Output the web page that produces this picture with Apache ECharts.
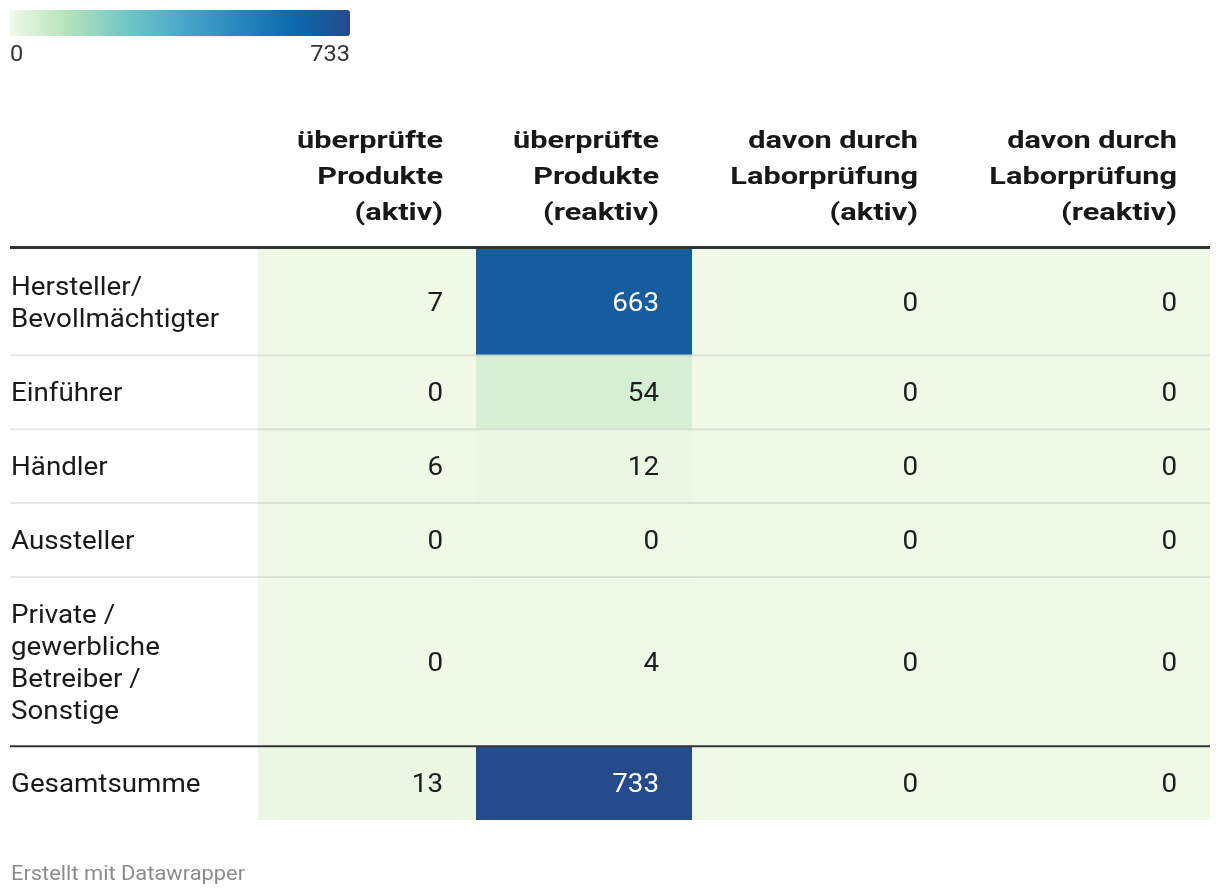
<!DOCTYPE html>
<html>
<head>
<meta charset="utf-8">
<script src="https://cdn.jsdelivr.net/npm/echarts@6/dist/echarts.min.js"></script>
<style>
html,body{margin:0;padding:0;background:#fff;}
#chart{width:1220px;height:896px;}
</style>
</head>
<body>
<div id="chart"></div>
<script>
// ---- data ----
const rowLabels = [
  'Hersteller/\nBevollmächtigter',
  'Einführer',
  'Händler',
  'Aussteller',
  'Private /\ngewerbliche\nBetreiber /\nSonstige',
  'Gesamtsumme'
];
const columnLabels = [
  'überprüfte\nProdukte\n(aktiv)',
  'überprüfte\nProdukte\n(reaktiv)',
  'davon durch\nLaborprüfung\n(aktiv)',
  'davon durch\nLaborprüfung\n(reaktiv)'
];
const produkteAktiv    = [7, 0, 6, 0, 0, 13];
const produkteReaktiv  = [663, 54, 12, 0, 4, 733];
const laborAktiv       = [0, 0, 0, 0, 0, 0];
const laborReaktiv     = [0, 0, 0, 0, 0, 0];
const columns = [produkteAktiv, produkteReaktiv, laborAktiv, laborReaktiv];
const scaleMin = 0;
const scaleMax = 733;
const colorStops = ['#f0f9e8','#b6e3bb','#75c8c5','#4ba8c9','#2989bd','#0a6aad','#254b8c'];

// ---- layout (not data) ----
const labelColW = 248;
const colW = [218, 216, 259, 259];
const lineH = 32, rowPad = 21;
const cellPadRight = 33;
const FONT = 'Roboto';
const regSize = 25, regScale = 1.11;
const boldSize = 24, boldScale = 1.28;
const textDy = 3;

const rowH = rowLabels.map(l => rowPad * 2 + lineH * l.split('\n').length);
const rowTop = []; { let s = 0; rowH.forEach(h => { rowTop.push(s); s += h; }); }
const tableH = rowH.reduce((a, b) => a + b, 0);
const colLeft = []; { let s = labelColW; colW.forEach(w => { colLeft.push(s); s += w; }); }
const tableW = labelColW + colW.reduce((a, b) => a + b, 0);

const cellData = [];
columns.forEach((vals, ci) => vals.forEach((v, ri) => cellData.push([ci, ri, v])));

const chart = echarts.init(document.getElementById('chart'));
chart.setOption({
  animation: false,
  backgroundColor: '#fff',
  grid: { left: 10, right: 10, top: 249, bottom: 76 },
  xAxis: { type: 'value', min: 0, max: tableW, show: false },
  yAxis: { type: 'value', min: 0, max: tableH, inverse: true, show: false },
  visualMap: {
    type: 'continuous',
    min: scaleMin, max: scaleMax,
    dimension: 2,
    seriesIndex: 0,
    orient: 'horizontal',
    left: 10, top: 10,
    itemWidth: 26, itemHeight: 340,
    padding: 0,
    calculable: false,
    hoverLink: false,
    inRange: { color: colorStops }
  },
  graphic: [
    { type: 'text', x: 10, y: 52 + textDy, scaleX: 1.07, style: { text: String(scaleMin), font: '22px ' + FONT, fill: '#333', align: 'left', verticalAlign: 'middle' } },
    { type: 'text', x: 350, y: 52 + textDy, scaleX: 1.07, style: { text: String(scaleMax), font: '22px ' + FONT, fill: '#333', align: 'right', verticalAlign: 'middle' } },
    { type: 'text', x: 11, y: 872 + textDy, scaleX: 1.04, style: { text: 'Erstellt mit Datawrapper', font: '21px ' + FONT, fill: '#8c8c8c', align: 'left', verticalAlign: 'middle' } }
  ],
  series: [
    {
      type: 'custom',
      name: 'cells',
      data: cellData,
      clip: false,
      z: 1,
      renderItem: function (params, api) {
        const ci = api.value(0), ri = api.value(1), v = api.value(2);
        const p0 = api.coord([colLeft[ci], rowTop[ri]]);
        const p1 = api.coord([colLeft[ci] + colW[ci], rowTop[ri] + rowH[ri]]);
        const dark = (v - scaleMin) / (scaleMax - scaleMin) > 0.5;
        return {
          type: 'group',
          children: [
            { type: 'rect', shape: { x: p0[0], y: p0[1], width: p1[0] - p0[0], height: p1[1] - p0[1] },
              style: { fill: api.visual('color') } },
            { type: 'text', x: p1[0] - cellPadRight, y: (p0[1] + p1[1]) / 2 + textDy, scaleX: regScale,
              style: { text: String(v), font: regSize + 'px ' + FONT, fill: dark ? '#ffffff' : '#1d1d1d', align: 'right', verticalAlign: 'middle' } }
          ]
        };
      }
    },
    {
      type: 'custom',
      name: 'rows',
      data: rowLabels.map((l, i) => [i]),
      clip: false,
      z: 5,
      renderItem: function (params, api) {
        const ri = api.value(0);
        const pl = api.coord([0, rowTop[ri]]);
        const pr = api.coord([tableW, rowTop[ri] + rowH[ri]]);
        const children = [
          { type: 'text', x: pl[0] + 1, y: (pl[1] + pr[1]) / 2 + textDy, scaleX: regScale,
            style: { text: rowLabels[ri], font: regSize + 'px ' + FONT, lineHeight: lineH, fill: '#1a1a1a', align: 'left', verticalAlign: 'middle' } }
        ];
        if (ri === 0) {
          children.push({ type: 'line', shape: { x1: pl[0], y1: pl[1] - 1.5, x2: pr[0], y2: pl[1] - 1.5 },
            style: { stroke: '#333333', lineWidth: 3 } });
        } else if (ri === rowLabels.length - 1) {
          children.push({ type: 'line', shape: { x1: pl[0], y1: pl[1], x2: pr[0], y2: pl[1] },
            style: { stroke: '#333333', lineWidth: 2 } });
        } else {
          children.push({ type: 'line', shape: { x1: pl[0], y1: pl[1] + 0.5, x2: pr[0], y2: pl[1] + 0.5 },
            style: { stroke: 'rgba(0,0,0,0.09)', lineWidth: 2 } });
        }
        return { type: 'group', children: children };
      }
    },
    {
      type: 'custom',
      name: 'header',
      data: columnLabels.map((l, i) => [i]),
      clip: false,
      z: 5,
      renderItem: function (params, api) {
        const ci = api.value(0);
        const p = api.coord([colLeft[ci] + colW[ci], 0]);
        return {
          type: 'text', x: p[0] - cellPadRight, y: p[1] - 20 + textDy, scaleX: boldScale,
          style: { text: columnLabels[ci], font: 'bold ' + boldSize + 'px ' + FONT, lineHeight: 36, fill: '#181818', align: 'right', verticalAlign: 'bottom' }
        };
      }
    }
  ]
});
</script>
</body>
</html>
